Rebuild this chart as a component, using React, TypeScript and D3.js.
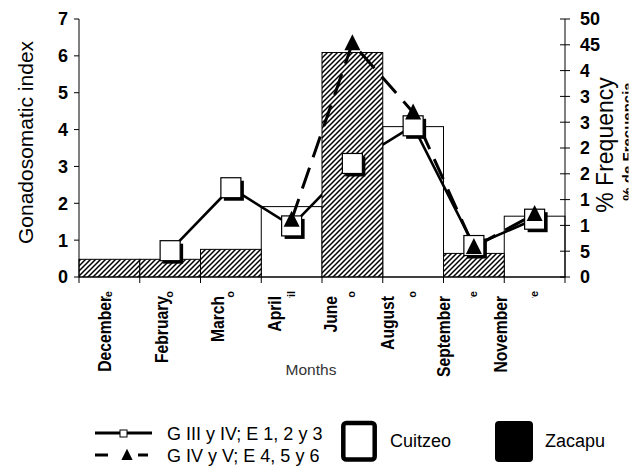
import React from "react";
import * as d3 from "d3";

const months = ["December", "February", "March", "April", "June", "August", "September", "November"];
const monthsEs = ["Diciembre", "Febrero", "Marzo", "Abril", "Junio", "Agosto", "Septiembre", "Noviembre"];
// Gonadosomatic index bars
const cuitzeoGSI = [0, 0, 0, 1.91, 0, 4.08, 0, 1.65];
const zacapuGSI = [0.48, 0.48, 0.75, 0, 6.09, 0, 0.64, 0];
// % frequency lines
const stageIII: (number | null)[] = [null, 5.1, 17.3, 9.9, 22.0, 29.3, 6.1, 11.2];
const stageIV: (number | null)[] = [null, null, null, 11.1, 45.3, 31.9, 5.8, 12.2];
const leftTicks = [0, 1, 2, 3, 4, 5, 6, 7];
const rightTicks = [0, 5, 10, 15, 20, 25, 30, 35, 40, 45, 50];
const legendLines = ["G III y IV; E 1, 2 y 3", "G IV y V; E 4, 5 y 6"];
const legendBars = ["Cuitzeo", "Zacapu"];

const W = 644, H = 472;
const FONT = "'Liberation Sans', Arial, sans-serif";

export default function App() {
  const x = d3.scaleBand<string>().domain(months).range([79, 565]).padding(0);
  const labelX = d3.scalePoint<string>().domain(months).range([111, 507]);
  const yL = d3.scaleLinear().domain([0, 7]).range([277, 19]);
  const yR = d3.scaleLinear().domain([0, 50]).range([277, 19]);
  const bw = x.bandwidth();
  const cx = (i: number) => (x(months[i]) as number) + bw / 2;

  const line = d3
    .line<number | null>()
    .defined((d) => d != null)
    .x((_, i) => cx(i))
    .y((d) => yR(d as number));

  const tri = (px: number, py: number, s = 1) =>
    `M${px},${py - 9 * s}L${px + 8 * s},${py + 7 * s}L${px - 8 * s},${py + 7 * s}Z`;

  return (
    <svg width={W} height={H} style={{ position: "absolute", left: 0, top: 0, background: "white" }} fontFamily={FONT}>
      <defs>
        <pattern id="hatch" patternUnits="userSpaceOnUse" width="5" height="5">
          <rect width="5" height="5" fill="white" />
          <path d="M-1.25,1.25 l2.5,-2.5 M0,5 l5,-5 M3.75,6.25 l2.5,-2.5" stroke="black" strokeWidth="1.5" />
        </pattern>
        <clipPath id="esclip">
          <rect x={79} y={290} width={490} height={8} />
        </clipPath>
        <clipPath id="frclip">
          <rect x={600} y={0} width={28.5} height={300} />
        </clipPath>
      </defs>

      {/* Cuitzeo bars */}
      {cuitzeoGSI.map((v, i) =>
        v > 0 ? (
          <rect key={"c" + i} x={x(months[i])} y={yL(v)} width={bw} height={yL(0) - yL(v)} fill="white" stroke="black" strokeWidth={1} />
        ) : null
      )}

      {/* square-series line */}
      <path d={line(stageIII) || ""} fill="none" stroke="black" strokeWidth={2.6} />

      {/* Zacapu bars */}
      {zacapuGSI.map((v, i) =>
        v > 0 ? (
          <rect key={"z" + i} x={x(months[i])} y={yL(v)} width={bw} height={yL(0) - yL(v)} fill="url(#hatch)" stroke="black" strokeWidth={1} />
        ) : null
      )}

      {/* triangle-series dashed line */}
      <path d={line(stageIV) || ""} fill="none" stroke="black" strokeWidth={3} strokeDasharray="22,11" />

      {/* axes */}
      <line x1={79} x2={79} y1={yL(7)} y2={yL(0)} stroke="black" strokeWidth={1} />
      <line x1={79} x2={565} y1={yL(0)} y2={yL(0)} stroke="black" strokeWidth={1} />
      <line x1={565} x2={565} y1={yR(50)} y2={yR(0)} stroke="black" strokeWidth={1} />
      {leftTicks.map((t) => (
        <g key={"lt" + t}>
          <line x1={74} x2={79} y1={yL(t)} y2={yL(t)} stroke="black" />
          <text x={68} y={yL(t)} dy="0.36em" textAnchor="end" fontWeight="bold" fontSize={18}>
            {t}
          </text>
        </g>
      ))}
      {rightTicks.map((t) => (
        <g key={"rt" + t}>
          <line x1={560} x2={570} y1={yR(t)} y2={yR(t)} stroke="black" />
          <text x={580} y={yR(t)} dy="0.36em" textAnchor="start" fontWeight="bold" fontSize={18}>
            {t}
          </text>
        </g>
      ))}
      {months.map((m) => (
        <line key={"bt" + m} x1={x(m)} x2={x(m)} y1={yL(0)} y2={yL(0) + 6} stroke="black" />
      ))}
      <line x1={565} x2={565} y1={yL(0)} y2={yL(0) + 6} stroke="black" />

      {/* markers */}
      {stageIII.map((v, i) =>
        v != null ? (
          <g key={"sq" + i}>
            <rect x={cx(i) - 10 + 3} y={yR(v) - 10 + 3} width={20} height={20} fill="black" />
            <rect x={cx(i) - 10} y={yR(v) - 10} width={20} height={20} fill="white" stroke="black" strokeWidth={1.2} />
          </g>
        ) : null
      )}
      {stageIV.map((v, i) => (v != null ? <path key={"tr" + i} d={tri(cx(i), yR(v))} fill="black" /> : null))}

      {/* month labels */}
      {months.map((m) => (
        <text
          key={"ml" + m}
          transform={`translate(${labelX(m)},296) rotate(-90) scale(0.87,1)`}
          textAnchor="end"
          fontWeight="bold"
          fontSize={18}
        >
          {m}
        </text>
      ))}
      <g clipPath="url(#esclip)">
        {monthsEs.map((m, i) => (
          <text
            key={"es" + m}
            transform={`translate(${cx(i) + 3},291) rotate(-90)`}
            textAnchor="end"
            fontWeight="bold"
            fontSize={11}
          >
            {m}
          </text>
        ))}
      </g>
      <text x={311} y={375} textAnchor="middle" fontSize={15.5} fill="#333">
        Months
      </text>

      {/* axis titles */}
      <text transform="translate(33,142.5) rotate(-90)" textAnchor="middle" fontSize={21}>
        Gonadosomatic index
      </text>
      <rect x={589.5} y={57} width={60} height={180} fill="white" />
      <text transform="translate(613,145) rotate(-90)" textAnchor="middle" fontSize={23}>
        % Frequency
      </text>
      <g clipPath="url(#frclip)">
        <text transform="translate(633,141.5) rotate(-90)" textAnchor="middle" fontWeight="bold" fontSize={15}>
          % de Frecuencia
        </text>
      </g>

      {/* legend */}
      <line x1={95} x2={152} y1={433} y2={433} stroke="black" strokeWidth={3} />
      <rect x={120} y={430} width={7} height={7} fill="white" stroke="black" strokeWidth={1} />
      <text x={167} y={440} fontSize={18}>
        {legendLines[0]}
      </text>
      <line x1={95} x2={148} y1={455} y2={455} stroke="black" strokeWidth={3} strokeDasharray="13,30,10" />
      <path d={tri(127, 455, 0.7)} fill="black" />
      <text x={167} y={462} fontSize={18}>
        {legendLines[1]}
      </text>
      <rect x={343.3} y={423} width={31.4} height={36.5} rx={3} fill="white" stroke="black" strokeWidth={4.5} />
      <text x={390} y={447} fontSize={18}>
        {legendBars[0]}
      </text>
      <rect x={495} y={421} width={38} height={41} rx={4} fill="black" />
      <text x={545} y={447} fontSize={18}>
        {legendBars[1]}
      </text>
    </svg>
  );
}
